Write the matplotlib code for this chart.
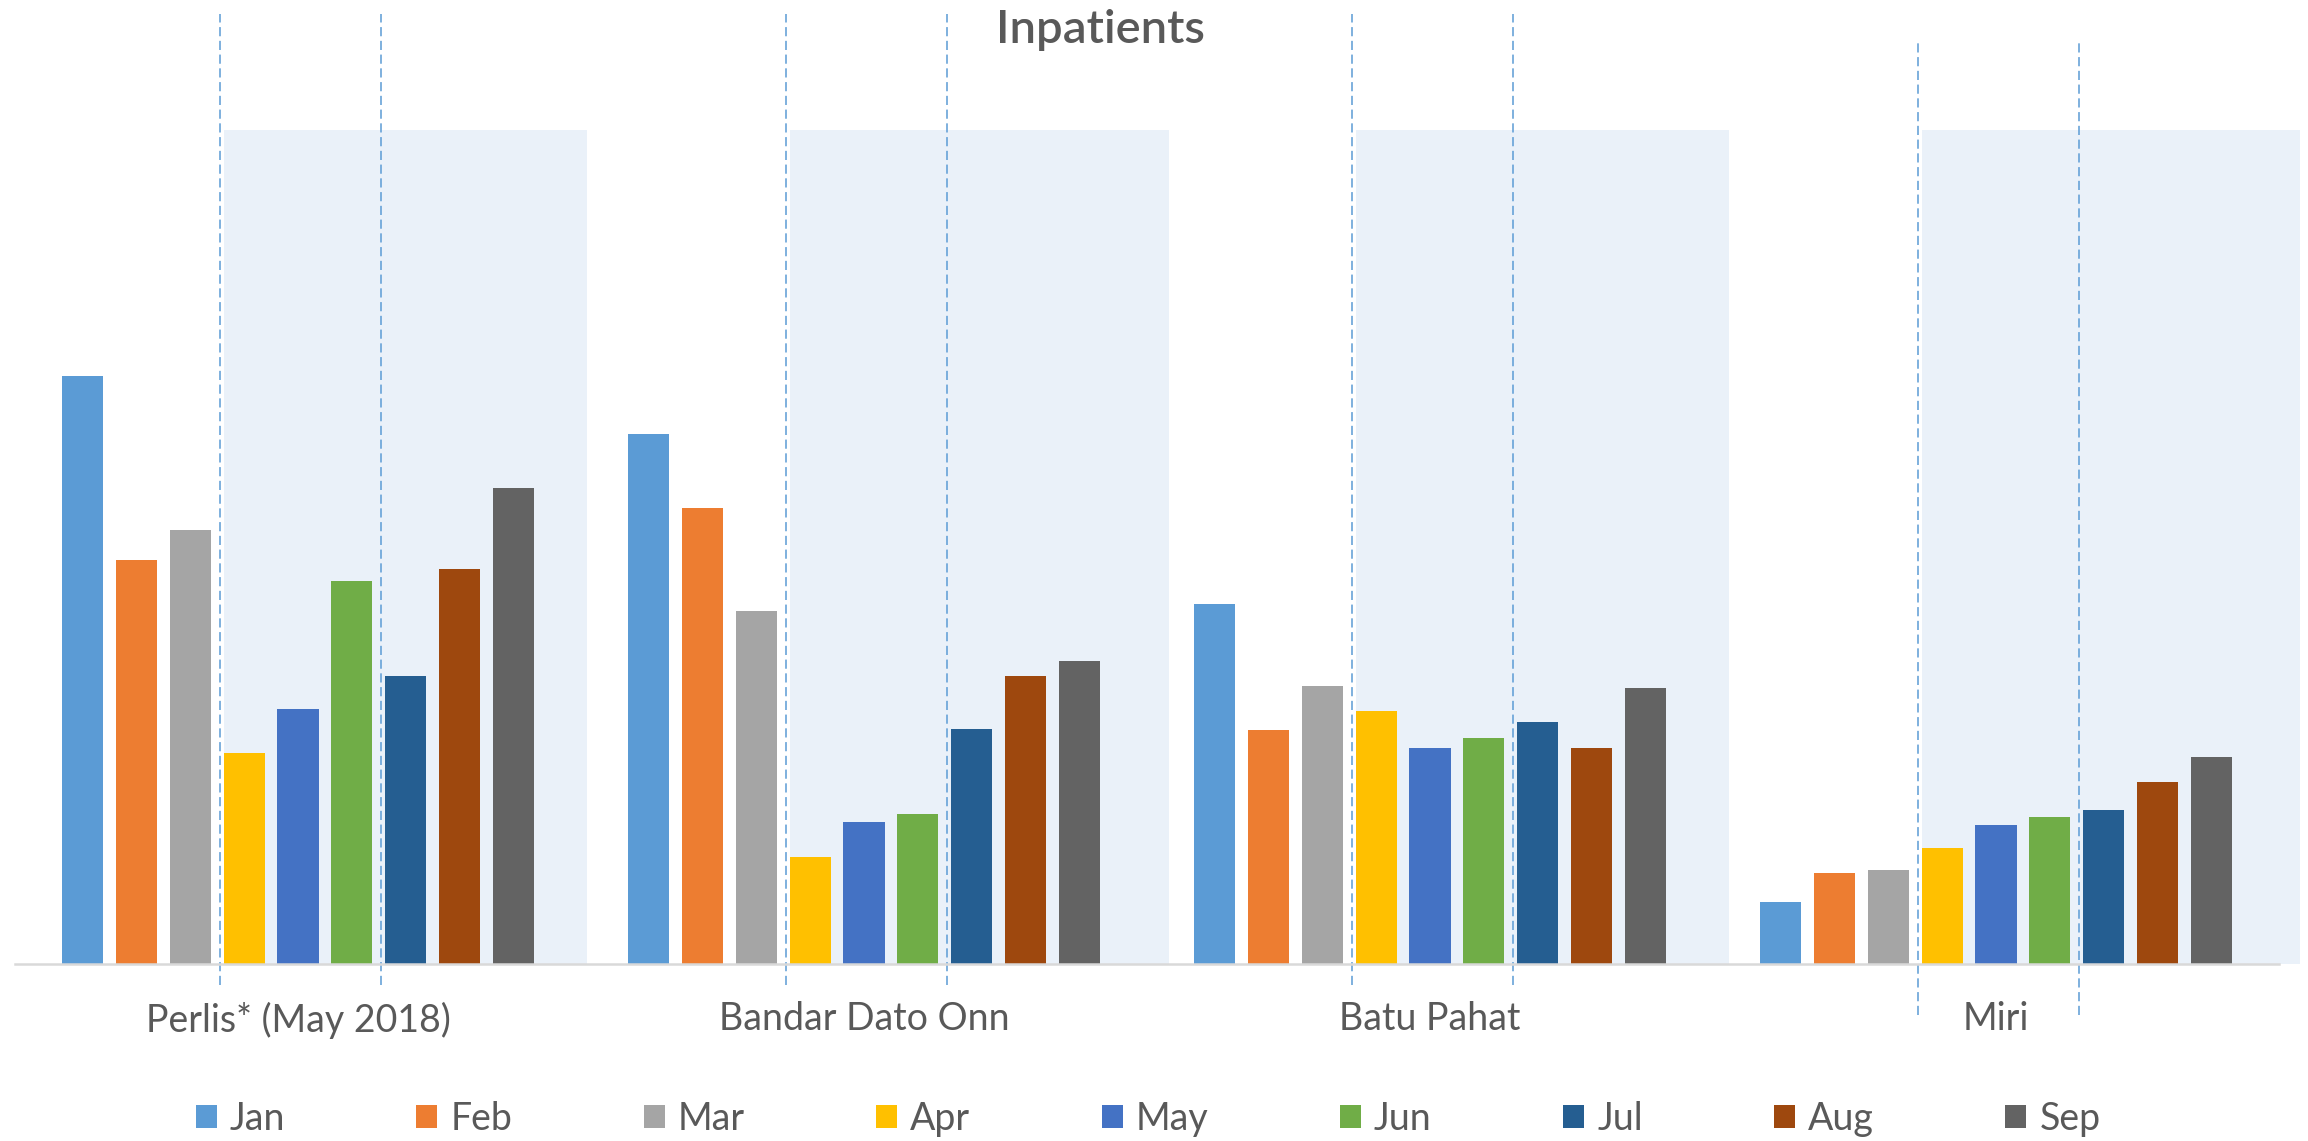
import matplotlib
matplotlib.use("Agg")
import matplotlib.pyplot as plt
import numpy as np

plt.rcParams["font.family"] = ["Lato", "DejaVu Sans"]

hospitals = ["Perlis* (May 2018)", "Bandar Dato Onn", "Batu Pahat", "Miri"]
months = ["Jan", "Feb", "Mar", "Apr", "May", "Jun", "Jul", "Aug", "Sep"]
colors = ["#5B9BD5", "#ED7D31", "#A5A5A5", "#FFC000", "#4472C4",
          "#70AD47", "#255E91", "#9E480E", "#636363"]

# inpatients per month, one row per hospital
perlis = [588, 404, 434, 211, 255, 383, 288, 395, 476]
bandar = [530, 456, 353, 107, 142, 150, 235, 288, 303]
batu_pahat = [360, 234, 278, 253, 216, 226, 242, 216, 276]
miri = [62, 91, 94, 116, 139, 147, 154, 182, 207]
values = np.array([perlis, bandar, batu_pahat, miri])

W, H = 2308, 1141
fig = plt.figure(figsize=(W / 100, H / 100), dpi=100)
ax = fig.add_axes([15 / W, (H - 964) / H, 2264 / W, 834 / H])

x = np.arange(len(hospitals))
slot = 0.095
width = 0.0725

# shaded background blocks and dashed markers
shade_right = [0.51, 0.538, 0.529, 0.537]
for i in x:
    ax.axvspan(i - 0.13, i + shade_right[i], color="#EAF1F9", lw=0, zorder=0,
               clip_on=False)
    top, bottom = (922, -51) if i == 3 else (950, -21)
    for off in (-0.138, 0.146):
        ax.plot([i + off, i + off], [bottom, top], color="#5B9BD5", lw=1.1,
                ls=(0, (6, 3)), clip_on=False, zorder=1)

for j, m in enumerate(months):
    ax.bar(x + (j - 4) * slot, values[:, j], width=width, color=colors[j],
           label=m, zorder=2)

ax.set_xlim(-0.5, 3.5)
ax.set_ylim(0, 834)
for s in ["top", "left", "right"]:
    ax.spines[s].set_visible(False)
ax.spines["bottom"].set_color("#D9D9D9")
ax.spines["bottom"].set_linewidth(1.8)
ax.set_yticks([])
ax.set_xticks(x)
ax.set_xticklabels(hospitals, fontsize=27, color="#595959")
ax.tick_params(axis="x", length=0, pad=27)

fig.text(1100 / W, 1 - 30 / H, "Inpatients", fontsize=34, color="#595959",
         fontweight="semibold", ha="center", va="center")

fig.legend(loc="center", bbox_to_anchor=(1148 / W, 22 / H), ncol=9,
           frameon=False, fontsize=27, labelcolor="#595959",
           handlelength=0.56, handleheight=0.56, handletextpad=0.35,
           columnspacing=3.5, borderpad=0)

fig.savefig("out.png", dpi=100)
